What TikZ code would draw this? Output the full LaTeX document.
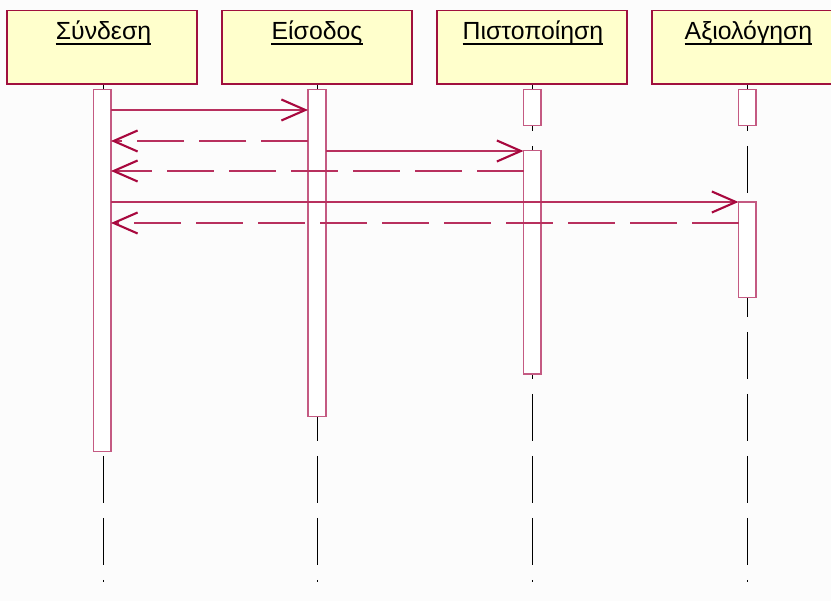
\documentclass[tikz,border=0pt]{standalone}
\usepackage{fontspec}
\setmainfont{Liberation Sans}
\usetikzlibrary{arrows.meta}
\definecolor{objborder}{HTML}{A0103E}
\definecolor{objfill}{HTML}{FFFFCC}
\definecolor{actborder}{HTML}{C45A82}
\definecolor{msgline}{HTML}{B8305E}
\definecolor{msghead}{HTML}{A8083E}
\tikzset{
  objbox/.style={draw=objborder, line width=1.4pt, fill=objfill},
  objlabel/.style={font=\fontsize{24.8}{28}\selectfont, anchor=base, inner sep=0pt},
  uline/.style={draw=black, line width=1.5pt},
  actbox/.style={draw=actborder, line width=1.3pt, fill=white},
  lifeline/.style={draw=black, line width=0.9pt, dash pattern=on 47pt off 15pt},
  msghd/.style={-{Straight Barb[length=24pt,width=21pt,line width=2.1pt,color=msghead]}},
  callmsg/.style={draw=msgline, line width=1.3pt, msghd},
  retmsg/.style={draw=msgline, line width=1.3pt, msghd, dash pattern=on 47pt off 15pt},
}
\begin{document}
\begin{tikzpicture}[x=1pt,y=-1pt]
\useasboundingbox (0,0) rectangle (831,601);
\fill[white!99!black] (0,0) rectangle (831,601);
% lifelines
\draw[lifeline] (103,84) -- (103,582);
\draw[lifeline] (317,84) -- (317,582);
\draw[lifeline] (532,84) -- (532,582);
\draw[lifeline] (747,84) -- (747,582);
% object boxes
\begin{scope}
\clip (0,0) rectangle (831,601);
\draw[objbox] (7,10.7) rectangle (197,84);
\draw[objbox] (222,10.7) rectangle (412,84);
\draw[objbox] (437,10.7) rectangle (627,84);
\draw[objbox] (652,10.7) rectangle (842,84);
\end{scope}
\node[objlabel] (l1) at (103.5,40) {Σύνδεση};
\node[objlabel] (l2) at (317,40) {Είσοδος};
\node[objlabel] (l3) at (533,40) {Πιστοποίηση};
\node[objlabel] (l4) at (748.5,40) {Αξιολόγηση};
\foreach \n in {l1,l2,l3,l4}
  \draw[uline] ([yshift=-3.8pt]\n.base west) -- ([yshift=-3.8pt]\n.base east);
% activation boxes
\draw[actbox] (93.5,89.5) rectangle (111,451.5);
\draw[actbox] (308,89.5) rectangle (326,416.5);
\draw[actbox] (523.5,89.5) rectangle (541,125.5);
\draw[actbox] (523.5,150.7) rectangle (541,374);
\draw[actbox] (738.5,89.5) rectangle (756,125.5);
\draw[actbox] (738.5,202) rectangle (756,297.5);
% anchors for messages
\coordinate (s1) at (111,110);   \coordinate (e1) at (308,110);
\coordinate (s2) at (308,141);   \coordinate (e2) at (111,141);
\coordinate (s3) at (326,151);   \coordinate (e3) at (523.5,151);
\coordinate (s4) at (523.5,171); \coordinate (e4) at (111,171);
\coordinate (s5) at (111,202);   \coordinate (e5) at (738.5,202);
\coordinate (s6) at (738.5,223); \coordinate (e6) at (111,223);
\draw[callmsg] (s1) -- (e1);
\draw[retmsg] (s2) -- (e2);
\draw[callmsg] (s3) -- (e3);
\draw[retmsg] (s4) -- (e4);
\draw[callmsg] (s5) -- (e5);
\draw[retmsg] (s6) -- (e6);
\end{tikzpicture}
\end{document}
